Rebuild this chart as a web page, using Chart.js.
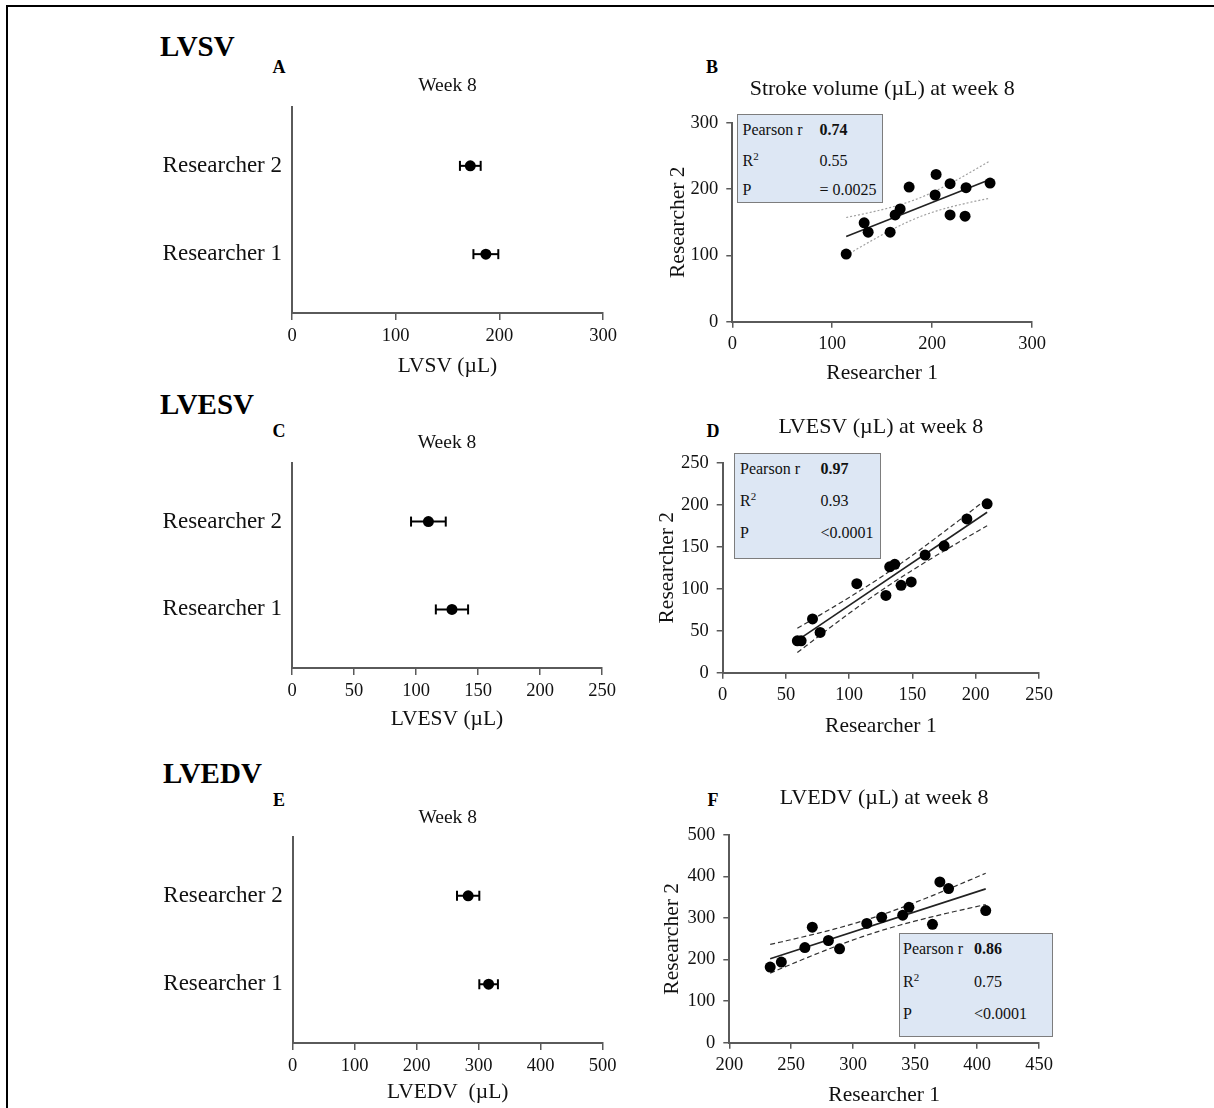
<!DOCTYPE html>
<html><head><meta charset="utf-8">
<script src="https://cdn.jsdelivr.net/npm/chart.js@4.4.0/dist/chart.umd.min.js"></script>
<style>
body{margin:0;background:#fff;width:1214px;height:1108px;overflow:hidden;position:relative;font-family:"Liberation Serif","Times New Roman",serif;color:#000;}
canvas{position:absolute;}
.frame{position:absolute;background:#000;}
.head{position:absolute;font-weight:bold;font-size:29px;line-height:1;transform:translateY(-50%);}
.letter{position:absolute;font-weight:bold;font-size:18px;line-height:1;transform:translate(-50%,-50%);}
.box{position:absolute;background:#dde7f4;border:1.5px solid #7d7d7d;box-sizing:border-box;font-size:16px;color:#111;}
.box span{position:absolute;transform:translateY(-50%);white-space:nowrap;line-height:1;}
.box sup{font-size:11px;vertical-align:6px;line-height:0;}
</style></head><body>
<div class="frame" style="left:6px;top:5px;width:1208px;height:2px"></div>
<div class="frame" style="left:6px;top:5px;width:2px;height:1103px"></div>
<div class="head" style="left:160px;top:46px">LVSV</div>
<div class="head" style="left:160px;top:404px">LVESV</div>
<div class="head" style="left:163px;top:773px">LVEDV</div>
<div class="letter" style="left:279px;top:67px">A</div>
<div class="letter" style="left:712px;top:67px">B</div>
<div class="letter" style="left:279px;top:431px">C</div>
<div class="letter" style="left:713px;top:431px">D</div>
<div class="letter" style="left:279px;top:800px">E</div>
<div class="letter" style="left:713px;top:800px">F</div>
<script>
// ---------- data ----------
const categories = ['Researcher 1', 'Researcher 2'];
const categoryPos = [2, 5];

const svMean = [187, 172];
const svErr = [12, 10];
const esvMean = [129, 110];
const esvErr = [13, 14];
const edvMean = [316, 283];
const edvErr = [15, 18];

const svTicks = [0, 100, 200, 300];
const esvTicks = [0, 50, 100, 150, 200, 250];
const edvTicks = [0, 100, 200, 300, 400, 500];
const edvScatterXTicks = [200, 250, 300, 350, 400, 450];

const svR1 = [114, 132, 136, 158, 163, 168, 177, 203, 204, 218, 218, 234, 233, 258];
const svR2 = [102, 149, 135, 135, 161, 170, 203, 191, 222, 208, 161, 202, 159, 209];
const esvR1 = [59, 62, 71, 77, 106, 129, 132, 136, 141, 149, 160, 175, 193, 209];
const esvR2 = [38, 38, 64, 48, 106, 92, 126, 129, 104, 108, 140, 151, 183, 201];
const edvR1 = [233, 242, 261, 267, 280, 289, 311, 323, 340, 345, 364, 370, 377, 407];
const edvR2 = [182, 194, 229, 278, 246, 226, 287, 302, 307, 326, 285, 387, 371, 318];

const statLabels = ['Pearson r', 'R<sup>2</sup>', 'P'];
const svStats = ['0.74', '0.55', '= 0.0025'];
const esvStats = ['0.97', '0.93', '<0.0001'];
const edvStats = ['0.86', '0.75', '<0.0001'];

const tCrit12 = 2.179; // t(0.975, df = 12)

// ---------- helpers ----------
const SERIF = '"Liberation Serif","Times New Roman",serif';
const AXIS = '#5a5a5a';

function linAxis(ticks, size, tickLen, pad) {
  return {
    type: 'linear', min: ticks[0], max: ticks[ticks.length - 1],
    afterBuildTicks: s => { s.ticks = ticks.map(v => ({ value: v })); },
    grid: { drawOnChartArea: false, drawTicks: tickLen > 0, tickLength: tickLen, color: AXIS, lineWidth: 1.5 },
    border: { display: true, color: AXIS, width: 2 },
    ticks: { color: '#111', font: { family: SERIF, size: size }, padding: pad, maxRotation: 0, autoSkip: false }
  };
}

function makeCanvas(s) {
  const c = document.createElement('canvas');
  c.width = s.cw; c.height = s.ch;
  c.style.left = s.cx + 'px'; c.style.top = s.cy + 'px';
  c.style.width = s.cw + 'px'; c.style.height = s.ch + 'px';
  document.body.appendChild(c);
  return c;
}

function build(s, datasets, xScale, yScale) {
  const c = makeCanvas(s);
  const yW = s.area.l - s.cx;
  const xH = s.cy + s.ch - s.area.b;
  const rightPad = s.cx + s.cw - s.area.r;
  const tLH = s.titleSize * 1.2;
  const tTop = s.titleY - s.cy - tLH / 2;
  const tBot = (s.area.t - s.cy) - tTop - tLH;
  const aLH = s.axisTitleSize * 1.2;
  xScale.afterFit = sc => { sc.height = xH; };
  yScale.afterFit = sc => { sc.width = yW; };
  xScale.title = { display: true, text: s.xTitle, color: '#111', font: { family: SERIF, size: s.axisTitleSize },
    padding: { top: 0, bottom: Math.max(0, s.cy + s.ch - s.xTitleY - aLH / 2) } };
  if (s.yTitle) {
    yScale.title = { display: true, text: s.yTitle, color: '#111', font: { family: SERIF, size: s.axisTitleSize },
      padding: { top: s.yTitleX - s.cx - aLH / 2, bottom: 0 } };
  }
  return new Chart(c, {
    type: 'scatter',
    data: { datasets: datasets },
    options: {
      responsive: false, animation: false, devicePixelRatio: 1,
      layout: { padding: { left: 0, top: 0, bottom: 0, right: rightPad } },
      plugins: {
        legend: { display: false }, tooltip: { enabled: false },
        title: { display: true, text: s.title, fullSize: false, color: '#111',
          font: { family: SERIF, size: s.titleSize, weight: 'normal' },
          padding: { top: tTop, bottom: tBot } }
      },
      scales: { x: xScale, y: yScale }
    }
  });
}

function forestChart(s, means, errs, ticks) {
  const ds = [{
    data: means.map((m, i) => ({ x: m, y: categoryPos[i] })),
    pointRadius: 5.5, pointBackgroundColor: '#000', pointBorderColor: '#000', pointBorderWidth: 0, showLine: false
  }];
  means.forEach((m, i) => {
    ds.push({
      data: [{ x: m - errs[i], y: categoryPos[i] }, { x: m + errs[i], y: categoryPos[i] }],
      showLine: true, borderColor: '#000', borderWidth: 2,
      pointStyle: 'line', pointRotation: 90, pointRadius: 5, pointBorderWidth: 2, pointBorderColor: '#000'
    });
  });
  const x = linAxis(ticks, 18.5, 7, 5);
  const y = {
    type: 'linear', min: 0, max: 7,
    afterBuildTicks: sc => { sc.ticks = categoryPos.map(v => ({ value: v })); },
    grid: { drawOnChartArea: false, drawTicks: false, color: AXIS },
    border: { display: true, color: AXIS, width: 2 },
    ticks: { color: '#111', font: { family: SERIF, size: 23 }, padding: 10, callback: (v, i) => categories[i] }
  };
  return build(s, ds, x, y);
}

function regression(xs, ys) {
  const n = xs.length;
  const mx = xs.reduce((a, b) => a + b, 0) / n;
  const my = ys.reduce((a, b) => a + b, 0) / n;
  let sxx = 0, sxy = 0;
  xs.forEach((x, i) => { sxx += (x - mx) * (x - mx); sxy += (x - mx) * (ys[i] - my); });
  const slope = sxy / sxx, icpt = my - slope * mx;
  let sse = 0;
  xs.forEach((x, i) => { const r = ys[i] - (icpt + slope * x); sse += r * r; });
  const se = Math.sqrt(sse / (n - 2));
  return { n, mx, sxx, slope, icpt, se };
}

function scatterChart(s, xs, ys, xTicks, yTicks, ciStyle) {
  const f = regression(xs, ys);
  const x0 = Math.min(...xs), x1 = Math.max(...xs);
  const steps = 40;
  const upper = [], lower = [];
  for (let k = 0; k <= steps; k++) {
    const xv = x0 + (x1 - x0) * k / steps;
    const yh = f.icpt + f.slope * xv;
    const h = tCrit12 * f.se * Math.sqrt(1 / f.n + (xv - f.mx) * (xv - f.mx) / f.sxx);
    upper.push({ x: xv, y: yh + h });
    lower.push({ x: xv, y: yh - h });
  }
  const ds = [
    { data: xs.map((x, i) => ({ x: x, y: ys[i] })), pointRadius: 5.5, pointBackgroundColor: '#000', pointBorderWidth: 0, showLine: false },
    { data: [{ x: x0, y: f.icpt + f.slope * x0 }, { x: x1, y: f.icpt + f.slope * x1 }], showLine: true, pointRadius: 0, borderColor: '#222', borderWidth: 1.6 },
    { data: upper, showLine: true, pointRadius: 0, borderColor: ciStyle.color, borderWidth: ciStyle.width, borderDash: ciStyle.dash },
    { data: lower, showLine: true, pointRadius: 0, borderColor: ciStyle.color, borderWidth: ciStyle.width, borderDash: ciStyle.dash }
  ];
  return build(s, ds, linAxis(xTicks, 18.5, 6, 5), linAxis(yTicks, 18.5, 6, 8));
}

function statBox(left, top, w, h, labelOff, valOff, rows, values) {
  const b = document.createElement('div');
  b.className = 'box';
  b.style.left = left + 'px'; b.style.top = top + 'px';
  b.style.width = w + 'px'; b.style.height = h + 'px';
  let html = '';
  statLabels.forEach((lab, i) => {
    html += '<span style="left:' + labelOff + 'px;top:' + rows[i] + 'px">' + lab + '</span>';
    const v = values[i].replace('<', '&lt;');
    html += '<span style="left:' + valOff + 'px;top:' + rows[i] + 'px;' + (i === 0 ? 'font-weight:bold' : '') + '">' + v + '</span>';
  });
  b.innerHTML = html;
  document.body.appendChild(b);
}

// ---------- panels ----------
forestChart({ cx: 150, cy: 70, cw: 490, ch: 315, area: { l: 292, t: 107, r: 603, b: 313 },
  title: 'Week 8', titleSize: 19.5, titleY: 86, xTitle: 'LVSV (µL)', axisTitleSize: 21.5, xTitleY: 366 },
  svMean, svErr, svTicks);

forestChart({ cx: 150, cy: 427, cw: 490, ch: 313, area: { l: 292, t: 463, r: 602, b: 668 },
  title: 'Week 8', titleSize: 19.5, titleY: 443, xTitle: 'LVESV (µL)', axisTitleSize: 21.5, xTitleY: 719 },
  esvMean, esvErr, esvTicks);

forestChart({ cx: 150, cy: 802, cw: 490, ch: 306, area: { l: 292.7, t: 837, r: 602.7, b: 1043 },
  title: 'Week 8', titleSize: 19.5, titleY: 818, xTitle: 'LVEDV  (µL)', axisTitleSize: 21.5, xTitleY: 1092 },
  edvMean, edvErr, edvTicks);

scatterChart({ cx: 640, cy: 70, cw: 460, ch: 320, area: { l: 732.3, t: 122.7, r: 1032, b: 321.7 },
  title: 'Stroke volume (µL) at week 8', titleSize: 22, titleY: 89, xTitle: 'Researcher 1', yTitle: 'Researcher 2',
  axisTitleSize: 21.5, xTitleY: 373, yTitleX: 678 },
  svR1, svR2, svTicks, svTicks, { color: '#a0a0a0', width: 1.2, dash: [2, 2] });

scatterChart({ cx: 640, cy: 410, cw: 460, ch: 335, area: { l: 722.7, t: 462.7, r: 1039, b: 672.7 },
  title: 'LVESV (µL) at week 8', titleSize: 22, titleY: 427, xTitle: 'Researcher 1', yTitle: 'Researcher 2',
  axisTitleSize: 21.5, xTitleY: 726, yTitleX: 667 },
  esvR1, esvR2, esvTicks, esvTicks, { color: '#333', width: 1.2, dash: [5, 3] });

scatterChart({ cx: 640, cy: 780, cw: 460, ch: 328, area: { l: 729.3, t: 835, r: 1039, b: 1042.7 },
  title: 'LVEDV (µL) at week 8', titleSize: 22, titleY: 798, xTitle: 'Researcher 1', yTitle: 'Researcher 2',
  axisTitleSize: 21.5, xTitleY: 1095, yTitleX: 672 },
  edvR1, edvR2, edvScatterXTicks, edvTicks, { color: '#333', width: 1.2, dash: [5, 3] });

statBox(737, 114, 146, 89, 4.5, 81.5, [15, 46, 75], svStats);
statBox(734, 453, 147, 106, 5, 85.5, [15, 47, 79], esvStats);
statBox(899, 933, 154, 104, 3, 74, [15, 48, 80], edvStats);
</script>
</body></html>
